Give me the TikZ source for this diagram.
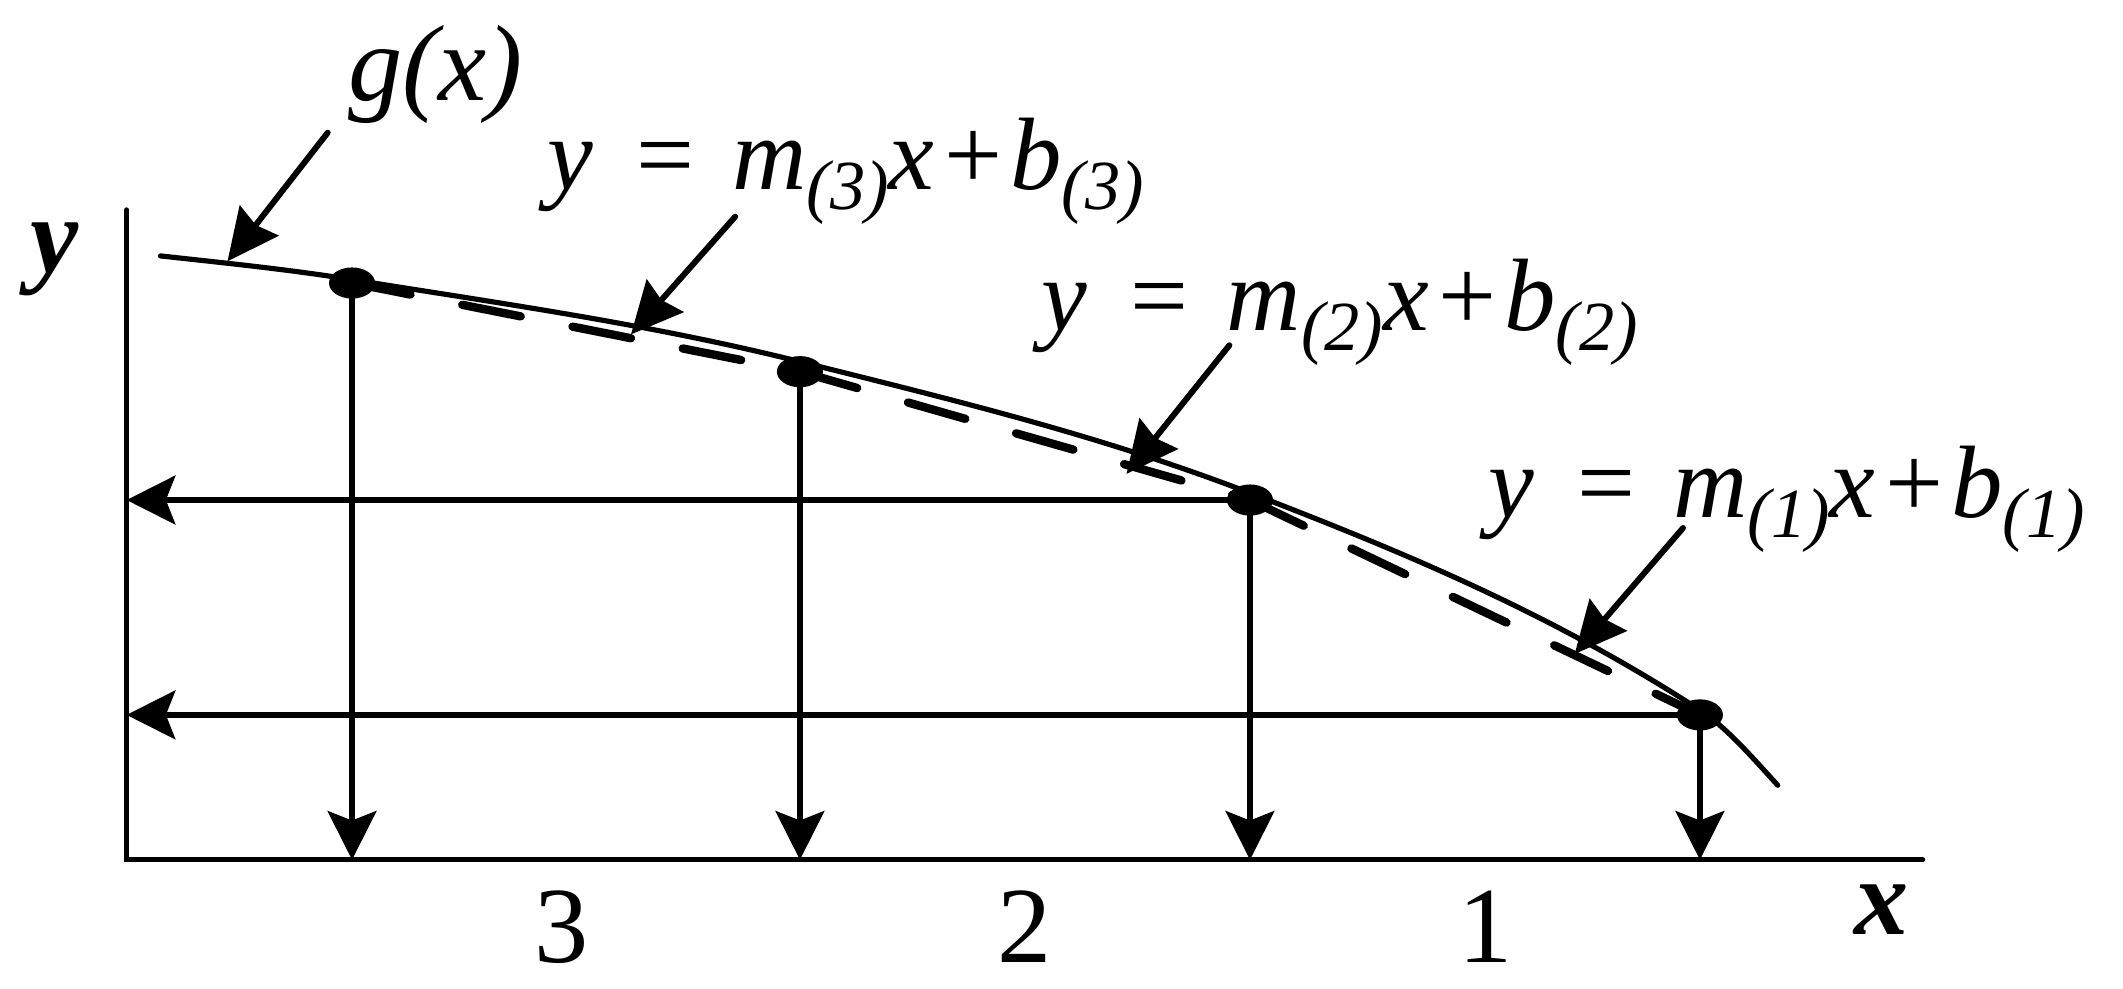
\documentclass[tikz,border=0pt]{standalone}
\usepackage{fontspec}
\setmainfont{Liberation Serif}
\usetikzlibrary{arrows.meta,shapes.geometric}
\newcommand{\lsub}[1]{\raisebox{-7.5pt}{\fontsize{26}{30}\selectfont\itshape #1}}
\newcommand{\lineeq}[1]{\textit{y}\hspace{16pt}=\hspace{14pt}\textit{m}\lsub{(#1)}\textit{x}\hspace{3.5pt}+\hspace{3pt}\textit{b}\lsub{(#1)}}
\begin{document}
\begin{tikzpicture}[x=0.5pt,y=-0.5pt,
  axis/.style={line width=1.9pt, line cap=round},
  gcurve/.style={line width=1.9pt, line cap=round},
  chord/.style={line width=3.1pt, dash pattern=on 22pt off 19.5pt, line cap=round},
  proj/.style={line width=2pt, -{Stealth[length=18pt,width=18pt,inset=3.5pt]}},
  pointer/.style={line width=2.2pt, line cap=round, -{Stealth[length=19pt,width=18pt,inset=2pt]}},
  dot/.style={ellipse, fill, minimum width=17pt, minimum height=11.5pt, inner sep=0pt},
  lbl/.style={font=\fontsize{38}{44}\selectfont, inner sep=0pt},
  glbl/.style={font=\fontsize{40}{46}\selectfont\itshape, inner sep=0pt},
  num/.style={font=\fontsize{40}{46}\selectfont, inner sep=0pt},
  axlbl/.style={font=\fontsize{40}{46}\selectfont\bfseries\itshape, inner sep=0pt}]
\useasboundingbox (0,0) rectangle (1568,730);
% axes
\coordinate (O) at (93.5,635);
\coordinate (ytop) at (93.5,155);
\coordinate (xend) at (1420,635);
\draw[axis] (ytop) -- (O) -- (xend);
% sample points
\node[dot] (p1) at (260,209) {};
\node[dot] (p2) at (590.8,274.5) {};
\node[dot] (p3) at (923.2,369.3) {};
\node[dot] (p4) at (1255.5,528) {};
% the curve g(x)
\coordinate (gs) at (118.5,189);
\coordinate (c1) at (260,206.5);
\coordinate (c2) at (590.8,267.1);
\coordinate (c3) at (923.2,364.1);
\coordinate (c4) at (1255.5,524.4);
\coordinate (ge) at (1313,580);
\draw[gcurve] (gs) .. controls (165.67,194.19) and (212.83,198.95) .. (c1)
  .. controls (370.27,224.14) and (480.53,239.53) .. (c2)
  .. controls (701.6,294.8) and (812.4,321.44) .. (c3)
  .. controls (1033.97,406.75) and (1144.73,452.4) .. (c4)
  .. controls (1274.67,536.86) and (1293.83,558.92) .. (ge);
% chords
\draw[chord] (p1.center) -- (p2.center);
\draw[chord] (p2.center) -- (p3.center);
\draw[chord] (p3.center) -- (p4.center);
% projections
\draw[proj] (p1.center) -- (p1.center |- O);
\draw[proj] (p2.center) -- (p2.center |- O);
\draw[proj] (p3.center) -- (p3.center |- O);
\draw[proj] (p4.center) -- (p4.center |- O);
\draw[proj] (p3.center) -- (p3.center -| O);
\draw[proj] (p4.center) -- (p4.center -| O);
% labels
\node[axlbl, anchor=base] (ylab) at (40,201) {y};
\node[axlbl, anchor=base] (xlab) at (1390,690) {x};
\node[num, anchor=base] (n3) at (415,711) {3};
\node[num, anchor=base] (n2) at (757,711) {2};
\node[num, anchor=base] (n1) at (1097,711) {1};
\node[glbl, anchor=base west] (glab) at (257,74) {g(x)};
\node[lbl, anchor=base west] (l3) at (404,140) {\lineeq{3}};
\node[lbl, anchor=base west] (l2) at (769,244) {\lineeq{2}};
\node[lbl, anchor=base west] (l1) at (1099,382) {\lineeq{1}};
% pointers
\coordinate (ga) at (242,98);   \coordinate (gb) at (168,193);
\coordinate (a3) at (543,160);  \coordinate (b3) at (466,247);
\coordinate (a2) at (908,255);  \coordinate (b2) at (832,350);
\coordinate (a1) at (1243,390); \coordinate (b1) at (1163,483);
\draw[pointer] (ga) -- (gb);
\draw[pointer] (a3) -- (b3);
\draw[pointer] (a2) -- (b2);
\draw[pointer] (a1) -- (b1);
\end{tikzpicture}
\end{document}
